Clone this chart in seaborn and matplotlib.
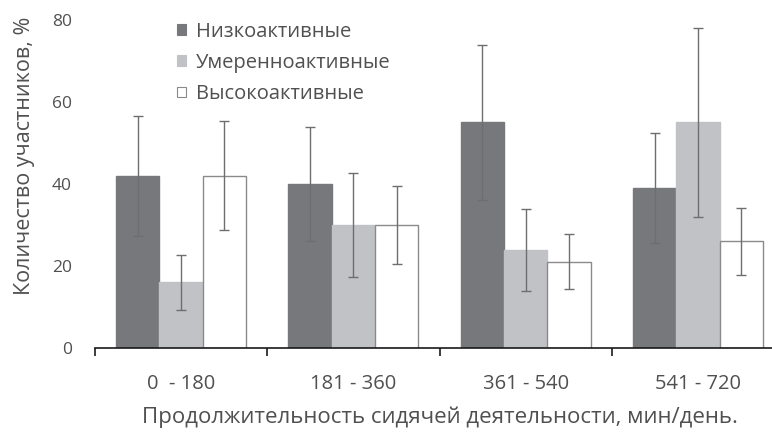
import matplotlib
matplotlib.use("Agg")
import matplotlib.pyplot as plt
from matplotlib.patches import Patch
from matplotlib.container import BarContainer
import numpy as np
import pandas as pd
import seaborn as sns

# Sedentary time bins (min/day) and activity groups
bins = ["0  - 180", "181 - 360", "361 - 540", "541 - 720"]
groups = ["Низкоактивные", "Умеренноактивные", "Высокоактивные"]

# Share of participants, % (mean) per bin
low_mean = [42, 40, 55, 39]
mid_mean = [16, 30, 24, 55]
high_mean = [42, 30, 21, 26]

# Error half-widths, %
low_err = [14.6, 13.8, 19.0, 13.5]
mid_err = [6.7, 12.6, 10.0, 23.0]
high_err = [13.3, 9.6, 6.7, 8.2]

y_ticks = [0, 20, 40, 60, 80]

colors = ["#77787c", "#c1c2c6", "#ffffff"]
text_color = "#505050"

df = pd.DataFrame({
    "bin": bins * 3,
    "group": [g for g in groups for _ in bins],
    "value": low_mean + mid_mean + high_mean,
})
errs = [low_err, mid_err, high_err]

sns.set_theme(style="white")
plt.rcParams["font.family"] = ["Open Sans", "DejaVu Sans"]

fig = plt.figure(figsize=(7.72, 4.32), dpi=100)
ax = fig.add_axes([95 / 772, 84 / 432, 689 / 772, 328 / 432])

sns.barplot(data=df, x="bin", y="value", hue="group", order=bins,
            hue_order=groups, palette=colors, width=0.755, errorbar=None,
            saturation=1, legend=False, ax=ax)

edge = ["#77787c", "#c1c2c6", "#8a8a8a"]
bar_containers = [c for c in ax.containers if isinstance(c, BarContainer)]
for i, cont in enumerate(bar_containers):
    xs, hs = [], []
    for bar in cont.patches:
        bar.set_edgecolor(edge[i])
        bar.set_linewidth(1.0)
        xs.append(bar.get_x() + bar.get_width() / 2)
        hs.append(bar.get_height())
    ax.errorbar(xs, hs, yerr=errs[i], fmt="none", ecolor="#6e6e6e",
                elinewidth=1.0, capsize=3.6, capthick=1.0, zorder=5)

ax.set_xlim(-0.5, 3.5)
ax.set_ylim(0, 80)
ax.set_yticks(y_ticks)
ax.set_yticklabels([str(t) for t in y_ticks])

for side in ["top", "right", "left"]:
    ax.spines[side].set_visible(False)
ax.spines["bottom"].set_color("#1a1a1a")
ax.spines["bottom"].set_linewidth(1.2)

# Category boundary ticks below the axis line
ax.set_xticks(np.arange(-0.5, 4.0, 1.0), minor=True)
ax.tick_params(axis="x", which="minor", direction="out", length=6,
               width=1.2, color="#1a1a1a", bottom=True)
ax.tick_params(axis="x", which="major", length=0, pad=19,
               labelsize=14.5, labelcolor=text_color)
ax.tick_params(axis="y", which="major", length=0, pad=16.5,
               labelsize=12.5, labelcolor=text_color)

ax.set_xlabel("Продолжительность сидячей деятельности, мин/день.",
              fontsize=16, color=text_color, labelpad=9)
ax.set_ylabel("Количество участников, %", fontsize=15.5, color=text_color)
ax.yaxis.set_label_coords(-0.087, 0.585)

handles = [Patch(facecolor=c, edgecolor=e, linewidth=0.8)
           for c, e in zip(colors, edge)]
leg = ax.legend(handles, groups, loc="upper left",
                bbox_to_anchor=(177 / 772, 1 - 22 / 432),
                bbox_transform=fig.transFigure, frameon=False,
                fontsize=14.5, handlelength=0.45, handleheight=0.45,
                handletextpad=0.5, labelspacing=0.55, borderpad=0,
                borderaxespad=0)
for t in leg.get_texts():
    t.set_color(text_color)

fig.savefig("out.png", dpi=100)
